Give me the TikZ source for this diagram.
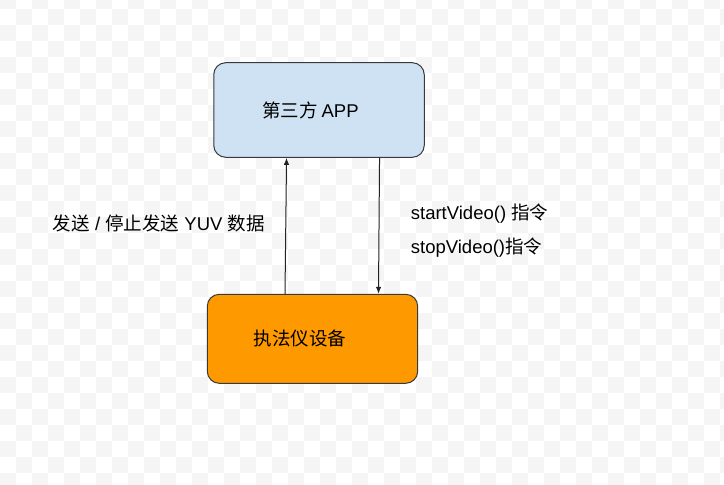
\documentclass[tikz,border=0pt]{standalone}
\usepackage{fontspec}
\setmainfont{Liberation Sans}
\newfontfamily\cjk{Noto Sans CJK SC}
\usetikzlibrary{arrows.meta,calc}
\definecolor{checker}{HTML}{F5F5F5}
\definecolor{bluefill}{HTML}{CFE2F3}
\definecolor{orangefill}{HTML}{FF9900}
\definecolor{edge}{HTML}{36393D}
\definecolor{linec}{HTML}{222222}
\begin{document}
\begin{tikzpicture}[x=1pt,y=-1pt,
  box/.style={draw=edge,line width=1pt,rounded corners=12pt,inner sep=0pt},
  txt/.style={inner sep=0pt,font=\fontsize{18.5}{22}\selectfont,text=black},
  arr/.style={draw=linec,line width=1pt,-{Latex[length=7pt,width=5.5pt]}}]
\useasboundingbox (0,0) rectangle (724,485);
\fill[white] (0,0) rectangle (724,485);
\begin{scope}
\clip (0,0) rectangle (724,485);
\foreach \c in {0,...,45}{
  \foreach \r in {0,...,31}{
    \pgfmathtruncatemacro{\p}{mod(\c+\r,2)}
    \ifnum\p=0
      \fill[checker] (\c*16,\r*16-7) rectangle ++(16,16);
    \fi
  }
}
\end{scope}
\node[box,fill=bluefill,minimum width=210.5pt,minimum height=94.6pt] (top) at (319,110) {};
\node[box,fill=orangefill,minimum width=210.4pt,minimum height=89pt] (bot) at (312.5,338.8) {};
\node[txt] (toptxt) at (310.5,110) {{\cjk 第三方}\hspace{0.2em}APP};
\node[txt] (bottxt) at (300,338.5) {\cjk 执法仪设备};
\draw[arr] ($(bot.north west)+(78.2,0)$) -- ($(top.south west)+(73.3,0)$);
\draw[arr] ($(top.south west)+(166.3,0)$) -- ($(bot.north west)+(171.7,0)$);
\node[txt,anchor=west] (lbl1) at (52.7,223) {{\cjk 发送} / {\cjk 停止发送} YUV {\cjk 数据}};
\node[txt,anchor=west] (lbl2) at (410.7,214) {startVideo() {\cjk 指令}};
\node[txt,anchor=west] (lbl3) at (410.7,248) {stopVideo(){\cjk 指令}};
\end{tikzpicture}
\end{document}
